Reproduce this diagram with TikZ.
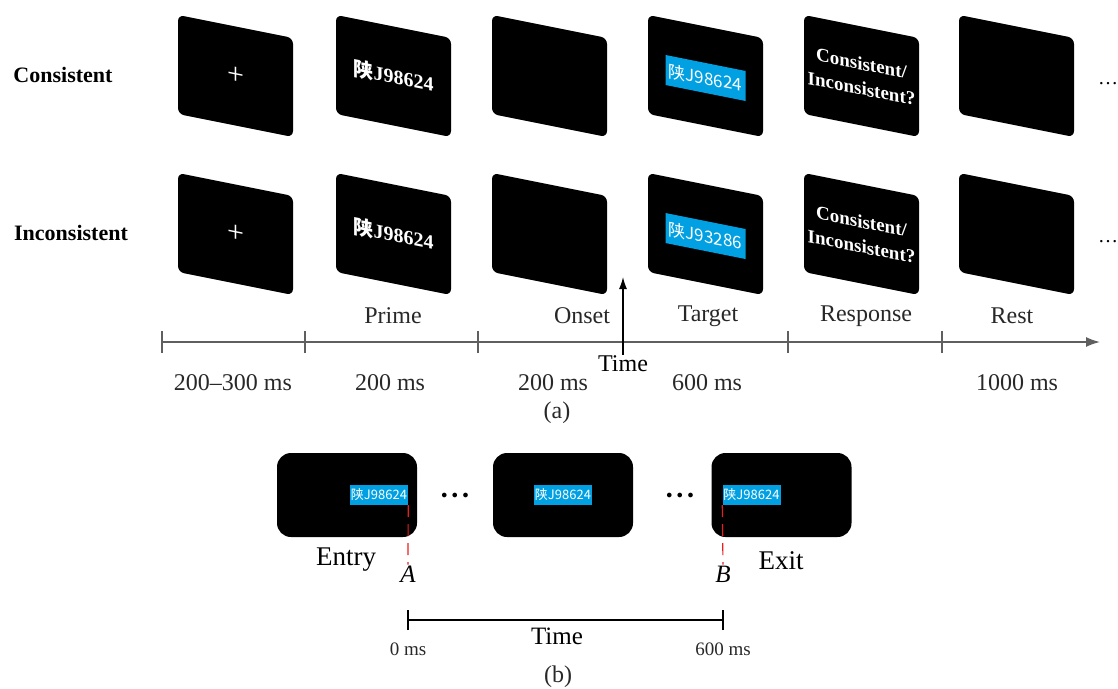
\documentclass[tikz,border=0pt]{standalone}
\usepackage{fontspec}
\setmainfont{Liberation Serif}
\newfontfamily\cjk{Noto Sans CJK SC}
\usepackage{tikz}
\usetikzlibrary{arrows.meta}
\definecolor{plateblue}{RGB}{0, 160, 226}
\definecolor{axisgray}{RGB}{95, 95, 95}
\definecolor{labelgray}{RGB}{40, 40, 40}
\definecolor{markred}{RGB}{235, 30, 30}

\newcommand{\fsz}[1]{\fontsize{#1}{#1}\selectfont}

\begin{document}
\begin{tikzpicture}[x=1pt, y=-1pt,
    every node/.style={font=\fsz{24}, text=labelgray},
    screen/.style={fill=black, rounded corners=6pt, yslant=-0.2, minimum width=115pt, minimum height=99pt, inner sep=0pt, text=white, font=\fsz{20}\bfseries},
    plate/.style={fill=plateblue, yslant=-0.2, minimum width=80pt, minimum height=30pt, inner sep=0pt, text=white, font=\fsz{17}\cjk},
    panel/.style={fill=black, rounded corners=14pt, minimum width=140pt, minimum height=84pt},
    smallplate/.style={fill=plateblue, minimum width=58pt, minimum height=20pt, inner sep=0pt, text=white, font=\fsz{13}\cjk},
    axis/.style={draw=axisgray, line width=1.6pt},
    markline/.style={draw=markred, line width=1.2pt, dash pattern=on 12pt off 7pt}]
    \useasboundingbox (0,0) rectangle (1118,688);

    % Row labels
    \node[font=\fsz{22}\bfseries, text=black] (lcons) at (63,75) {Consistent};
    \node[font=\fsz{22}\bfseries, text=black] (lincons) at (71,233) {Inconsistent};

    % Consistent trial screens
    \node[screen, font=\fsz{30}\mdseries] (c1) at (235.5,76) {+};
    \node[screen] (c2) at (393.5,76) {{\cjk 陕}J98624};
    \node[screen] (c3) at (549.5,76) {};
    \node[screen] (c4) at (705.5,76) {};
    \node[screen, align=center, font=\fontsize{19}{25}\selectfont\bfseries] (c5) at (861.5,76) {Consistent/\\Inconsistent?};
    \node[screen] (c6) at (1016.5,76) {};
    \node[plate] (cp) at ([yshift=-2pt]c4.center) {陕J98624};
    \node[text=black, anchor=west, font=\fsz{20}, inner sep=0pt] (cdots) at (1098,84) {\ldots};

    % Inconsistent trial screens
    \node[screen, font=\fsz{30}\mdseries] (i1) at (235.5,234) {+};
    \node[screen] (i2) at (393.5,234) {{\cjk 陕}J98624};
    \node[screen] (i3) at (549.5,234) {};
    \node[screen] (i4) at (705.5,234) {};
    \node[screen, align=center, font=\fontsize{19}{25}\selectfont\bfseries] (i5) at (861.5,234) {Consistent/\\Inconsistent?};
    \node[screen] (i6) at (1016.5,234) {};
    \node[plate] (ip) at ([yshift=-2pt]i4.center) {陕J93286};
    \node[text=black, anchor=west, font=\fsz{20}, inner sep=0pt] (idots) at (1098,242) {\ldots};

    % Time line of a trial
    \coordinate (t0) at (162,342);
    \coordinate (t1) at (305,342);
    \coordinate (t2) at (478,342);
    \coordinate (t3) at (788,342);
    \coordinate (t4) at (942,342);
    \coordinate (tend) at (1100,342);
    \draw[axis, -{Latex[length=14pt, width=10pt]}] (t0) -- (tend);
    \foreach \t in {t0,t1,t2,t3,t4}
        \draw[axis] ([yshift=-11pt]\t) -- ([yshift=11pt]\t);

    \node (prime) at (393,316) {Prime};
    \node (onset) at (582,316) {Onset};
    \node (target) at (708,316) {Target};
    \node (resp) at (866,316) {Response};
    \node (rest) at (1012,316) {Rest};

    \node (d0) at (233,383) {200--300 ms};
    \node (d1) at (390,383) {200 ms};
    \node (d2) at (553,383) {200 ms};
    \node (d3) at (707,383) {600 ms};
    \node (d4) at (1017,383) {1000 ms};

    \node[text=black, inner sep=1pt] (timelbl) at (623,364) {Time};
    \coordinate (onsetmark) at (623,277);
    \draw[draw=black, line width=1.3pt, -{Latex[length=12pt, width=8pt]}] (timelbl.north) -- (onsetmark);

    \node (capa) at (557,413) {(a)};

    % (b) plate moving through the view
    \node[panel] (e1) at (347,495) {};
    \node[panel] (e2) at (563,495) {};
    \node[panel] (e3) at (781.5,495) {};
    \node[smallplate] (p1) at (379,495) {陕J98624};
    \node[smallplate] (p2) at (563,495) {陕J98624};
    \node[smallplate] (p3) at (751.5,495) {陕J98624};
    \node[text=black, font=\fsz{12}] (g1) at (455,496) {$\bullet\hspace{2pt}\bullet\hspace{2pt}\bullet$};
    \node[text=black, font=\fsz{12}] (g2) at (680,496) {$\bullet\hspace{2pt}\bullet\hspace{2pt}\bullet$};

    \node[text=black, font=\fsz{27}] (entry) at (346,560) {Entry};
    \node[text=black, font=\fsz{27}] (exit) at (781,561) {Exit};
    \node[text=black, font=\fsz{25}\itshape, inner sep=1pt] (ma) at (408,574) {A};
    \node[text=black, font=\fsz{25}\itshape, inner sep=1pt] (mb) at (723,574) {B};
    \draw[markline] (p1.south east) -- (ma.north);
    \draw[markline] (p3.south west) -- (mb.north);

    \coordinate (z0) at (408,620);
    \coordinate (z1) at (723,620);
    \draw[line width=1.4pt] (z0) -- (z1);
    \foreach \z in {z0,z1}
        \draw[line width=1.4pt] ([yshift=-10pt]\z) -- ([yshift=10pt]\z);
    \node[text=black, font=\fsz{25}] (timeb) at (557,636) {Time};
    \node[font=\fsz{19}] (zero) at (408,649) {0 ms};
    \node[font=\fsz{19}] (six) at (723,649) {600 ms};

    \node (capb) at (558,677) {(b)};
\end{tikzpicture}
\end{document}
